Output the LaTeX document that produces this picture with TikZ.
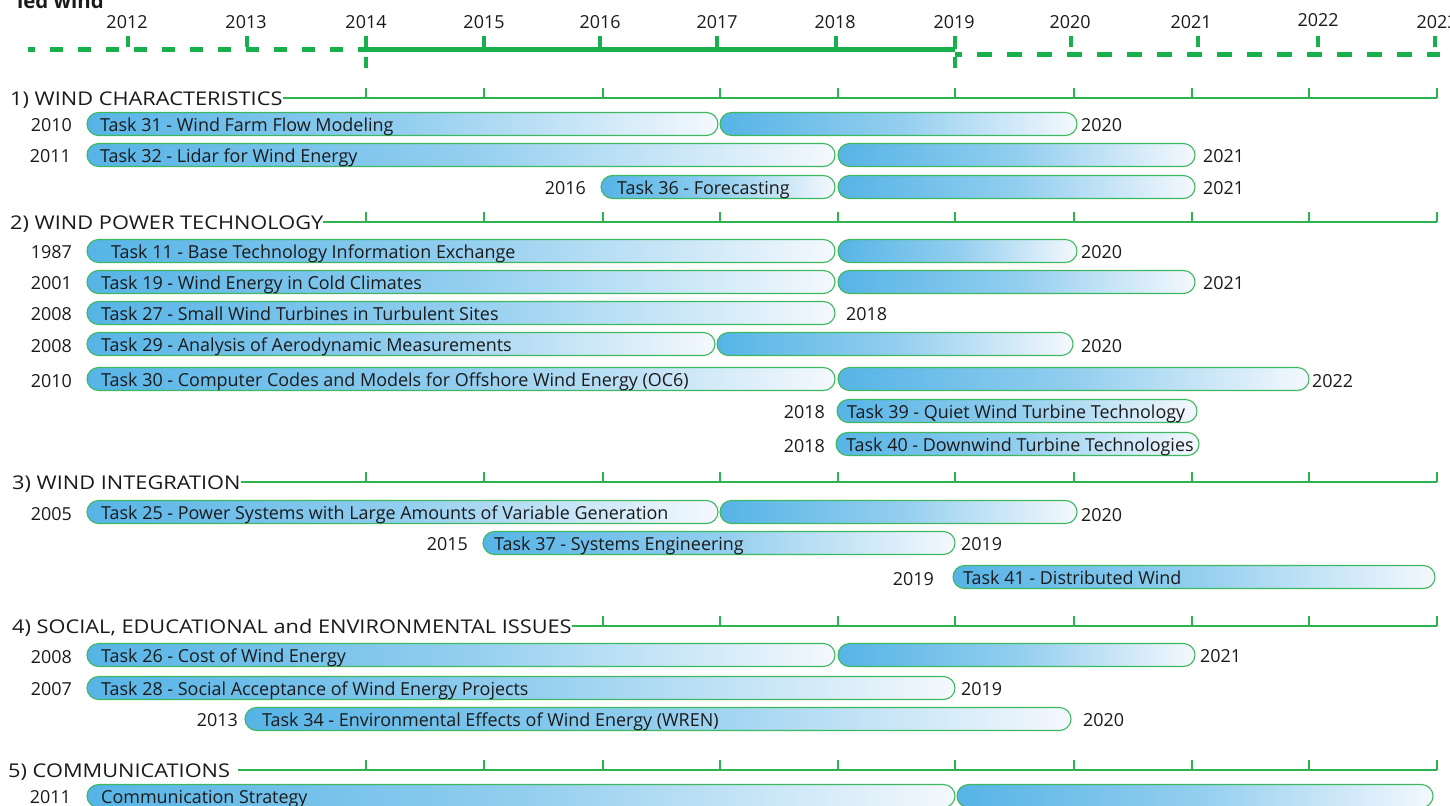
\documentclass[tikz,border=0pt]{standalone}
\usepackage{fontspec}
\setmainfont{Open Sans}
\newfontfamily\hdrfont[FakeStretch=1.15]{Open Sans}
\definecolor{barblue}{HTML}{56B4E6}
\definecolor{barwhite}{HTML}{F4F8FD}
\definecolor{bargreen}{HTML}{3DB85E}
\definecolor{linegreen}{HTML}{2DB34F}
\definecolor{topgreen}{HTML}{17B04C}
\definecolor{txt}{HTML}{1A1A1A}
\newcommand\seg[4]{\node[segbox, minimum width={(#3-#2)*1bp}] (#1) at (#2,#4) {};}
\begin{document}
\begin{tikzpicture}[x=1bp,y=-1bp,
  segbox/.style={draw=bargreen, line width=1.1bp, left color=barblue, right color=barwhite, middle color=barblue!62!barwhite, rounded corners=11.5bp, minimum height=23bp, inner sep=0pt, outer sep=0pt, anchor=west},
  tasktxt/.style={anchor=base west, inner sep=0pt, font=\fontsize{18}{20}\selectfont, text=txt},
  yr/.style={inner sep=0pt, font=\fontsize{18}{20}\selectfont, text=txt},
  hdr/.style={anchor=base west, inner sep=0pt, font=\hdrfont\fontsize{19}{22}\selectfont, text=txt},
  axisline/.style={draw=linegreen, line width=1.8bp},
  axtick/.style={draw=linegreen, line width=1.6bp},
  topdash/.style={draw=topgreen, line width=5bp},
  toptick/.style={draw=topgreen, line width=4bp}]
\useasboundingbox (0,0) rectangle (1450,805);

% ---------- top timeline ----------
\node[anchor=base west, inner sep=0pt, font=\bfseries\fontsize{20.5}{22}\selectfont, text=txt] (ttl) at (17,9) {ied wind};
\foreach \x/\yy/\t in {127/29/2012,246/29/2013,366/29/2014,484/29/2015,600/29/2016,717/29/2017,835/29/2018,954/29/2019,1070/29/2020,1191/29/2021,1318/27/2022,1437/29/2023}
  \node[yr, anchor=base] (yr\t) at (\x,\yy) {\t};
\coordinate (tl0) at (28,49.5);
\coordinate (tl1) at (366,49.5);
\coordinate (tl2) at (955,49.5);
\coordinate (tl3) at (955,54.5);
\coordinate (tl4) at (1440,54.5);
\draw[topdash, dash pattern=on 13bp off 15bp, dash phase=6bp] (tl0) -- (tl1);
\draw[draw=topgreen, line width=4.5bp] (tl1) -- (tl2);
\draw[topdash, dash pattern=on 15bp off 15bp, dash phase=8bp] (tl3) -- (tl4);
\foreach \x in {128,247,484,600,717,836,1071,1198,1318,1435}
  \draw[toptick] (\x,36) -- (\x,47);
\foreach \x in {366,955}
  \draw[toptick, dash pattern=on 13bp off 8bp] (\x,36) -- (\x,68);

% ---------- section headers ----------
\node[hdr] (h1) at (10,105) {1) WIND CHARACTERISTICS};
\node[hdr] (h2) at (10,229) {2) WIND POWER TECHNOLOGY};
\node[hdr] (h3) at (12,489) {3) WIND INTEGRATION};
\node[hdr] (h4) at (12,633) {4) SOCIAL, EDUCATIONAL and ENVIRONMENTAL ISSUES};
\node[hdr] (h5) at (8,777) {5) COMMUNICATIONS};
\foreach \h/\yy/\gap/\ticks in {h1/98/0/{366,484,603,720,838,955,1074,1192,1309,1437},
                               h2/222/0/{366,484,603,720,838,955,1074,1192,1309,1437},
                               h3/482/0/{366,484,603,720,838,955,1074,1192,1309,1437},
                               h4/626/0/{603,720,838,955,1074,1192,1309,1437},
                               h5/770/8/{366,484,603,720,838,955,1074,1192,1309,1437}}{
  \coordinate (\h e) at (1437,\yy);
  \draw[axisline] ([xshift=\gap bp]\h.east |- \h e) -- (\h e);
  \foreach \x in \ticks
    \draw[axtick] (\x,\yy) -- (\x,\yy-10);
}

% ---------- 1) wind characteristics ----------
\node[yr, anchor=base east] (s31) at (72,131) {2010};
\seg{t31a}{87}{718}{124}\seg{t31b}{720}{1077}{124}
\node[tasktxt] (l31) at (100,131) {Task 31 - Wind Farm Flow Modeling};
\node[yr, anchor=base west] (e31) at (1081,131) {2020};

\node[yr, anchor=base east] (s32) at (71,162) {2011};
\seg{t32a}{87}{835}{155}\seg{t32b}{838}{1195}{155}
\node[tasktxt] (l32) at (100,162) {Task 32 - Lidar for Wind Energy};
\node[yr, anchor=base west] (e32) at (1203,162) {2021};

\node[yr, anchor=base east] (s36) at (586,194) {2016};
\seg{t36a}{601}{835}{187}\seg{t36b}{838}{1195}{187}
\node[tasktxt] (l36) at (617,194) {Task 36 - Forecasting};
\node[yr, anchor=base west] (e36) at (1203,194) {2021};

% ---------- 2) wind power technology ----------
\node[yr, anchor=base east] (s11) at (72,258) {1987};
\seg{t11a}{87}{835}{251}\seg{t11b}{838}{1077}{251}
\node[tasktxt] (l11) at (111,258) {Task 11 - Base Technology Information Exchange};
\node[yr, anchor=base west] (e11) at (1081,258) {2020};

\node[yr, anchor=base east] (s19) at (72,289) {2001};
\seg{t19a}{87}{835}{282}\seg{t19b}{838}{1195}{282}
\node[tasktxt] (l19) at (101,289) {Task 19 - Wind Energy in Cold Climates};
\node[yr, anchor=base west] (e19) at (1203,289) {2021};

\node[yr, anchor=base east] (s27) at (72,320) {2008};
\seg{t27a}{87}{835}{313}
\node[tasktxt] (l27) at (101,320) {Task 27 - Small Wind Turbines in Turbulent Sites};
\node[yr, anchor=base west] (e27) at (846,320) {2018};

\node[yr, anchor=base east] (s29) at (72,352) {2008};
\seg{t29a}{87}{715}{344}\seg{t29b}{717}{1073}{344}
\node[tasktxt] (l29) at (101,351) {Task 29 - Analysis of Aerodynamic Measurements};
\node[yr, anchor=base west] (e29) at (1081,352) {2020};

\node[yr, anchor=base east] (s30) at (72,387) {2010};
\seg{t30a}{87}{835}{379}\seg{t30b}{838}{1309}{379}
\node[tasktxt] (l30) at (101,386) {Task 30 - Computer Codes and Models for Offshore Wind Energy (OC6)};
\node[yr, anchor=base west] (e30) at (1312,387) {2022};

\node[yr, anchor=base east] (s39) at (825,418) {2018};
\seg{t39a}{837}{1197}{411}
\node[tasktxt] (l39) at (847,418) {Task 39 - Quiet Wind Turbine Technology};

\node[yr, anchor=base east] (s40) at (825,452) {2018};
\seg{t40a}{836}{1199}{444}
\node[tasktxt] (l40) at (846,451) {Task 40 - Downwind Turbine Technologies};

% ---------- 3) wind integration ----------
\node[yr, anchor=base east] (s25) at (72,520) {2005};
\seg{t25a}{87}{718}{512}\seg{t25b}{720}{1077}{512}
\node[tasktxt] (l25) at (101,519) {Task 25 - Power Systems with Large Amounts of Variable Generation};
\node[yr, anchor=base west] (e25) at (1081,521) {2020};

\node[yr, anchor=base east] (s37) at (468,550) {2015};
\seg{t37a}{483}{955}{543}
\node[tasktxt] (l37) at (494,550) {Task 37 - Systems Engineering};
\node[yr, anchor=base west] (e37) at (961,550) {2019};

\node[yr, anchor=base east] (s41) at (934,585) {2019};
\seg{t41a}{953}{1435}{577}
\node[tasktxt] (l41) at (963,584) {Task 41 - Distributed Wind};

% ---------- 4) social ----------
\node[yr, anchor=base east] (s26) at (72,663) {2008};
\seg{t26a}{87}{835}{655}\seg{t26b}{838}{1195}{655}
\node[tasktxt] (l26) at (101,662) {Task 26 - Cost of Wind Energy};
\node[yr, anchor=base west] (e26) at (1200,662) {2021};

\node[yr, anchor=base east] (s28) at (72,695) {2007};
\seg{t28a}{87}{955}{688}
\node[tasktxt] (l28) at (101,695) {Task 28 - Social Acceptance of Wind Energy Projects};
\node[yr, anchor=base west] (e28) at (961,695) {2019};

\node[yr, anchor=base east] (s34) at (238,726) {2013};
\seg{t34a}{245}{1071}{719}
\node[tasktxt] (l34) at (262,726) {Task 34 - Environmental Effects of Wind Energy (WREN)};
\node[yr, anchor=base west] (e34) at (1083,726) {2020};

% ---------- 5) communications ----------
\node[yr, anchor=base east] (sc) at (71,803) {2011};
\seg{tca}{87}{955}{796}\seg{tcb}{957}{1433}{796}
\node[tasktxt] (lc) at (101,803) {Communication Strategy};
\end{tikzpicture}
\end{document}
